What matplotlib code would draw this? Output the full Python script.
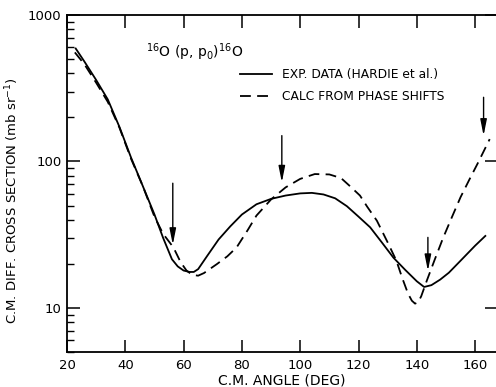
import numpy as np
import matplotlib
matplotlib.use("Agg")
import matplotlib.pyplot as plt

# experimental curve (Hardie et al.)
exp_angle = [23, 26, 30, 34, 38, 42, 46, 50, 53, 56, 58, 60, 62, 63.5, 65, 68, 72, 76, 80,
             85, 90, 95, 100, 104, 108, 112, 116, 120, 124, 128, 132, 136, 140, 142.5,
             145, 148, 151, 155, 160, 163.5]
exp_xs = [590, 480, 360, 265, 172, 106, 68, 43.5, 30, 21.5, 19.2, 18.0, 17.6, 17.6, 18.4,
          22.5, 29.3, 36.0, 43.4, 51, 55.5, 58.5, 60.5, 61, 59.5, 56, 49.5, 42, 35.5,
          28, 22, 18.2, 15.2, 13.9, 14.3, 15.6, 17.4, 21, 26.6, 31]

# calculated from phase shifts
calc_angle = [22.7, 26, 30, 34, 38, 42, 46, 50, 53, 56.5, 59, 61, 63, 65, 67, 71.4, 75,
              78.2, 82, 85, 90, 95, 100, 105, 110, 114, 117, 120.5, 123, 126.3, 130,
              133, 135, 137, 138.3, 139.4, 140.4, 141.5, 143.4, 146, 149, 152, 155, 158,
              161, 165]
calc_xs = [555, 460, 345, 255, 170, 104, 68, 42, 32, 25.9, 20.5, 18, 16.8, 16.6, 17.3,
           19.9, 22.5, 25.9, 34, 42.7, 55, 66.5, 76, 82, 81.5, 77, 68, 58.5, 49, 39.4,
           28, 21, 16.0, 12.5, 11.2, 10.7, 10.9, 12.0, 15.3, 21, 30, 41.5, 57, 75,
           98, 142]

# vertical arrows (angle, top, tip)
arrow_angle = [56.3, 93.7, 143.8, 162.9]
arrow_top = [71, 150, 30.3, 274]
arrow_tip = [27, 72, 17.9, 150]

fig = plt.figure(figsize=(4.96, 3.87), dpi=100)
ax = fig.add_axes([0.135, 0.0904, 0.867, 0.871])

ax.plot(exp_angle, exp_xs, color='black', lw=1.3, label='EXP. DATA (HARDIE et al.)')
ax.plot(calc_angle, calc_xs, color='black', lw=1.3, dashes=(6, 3.5),
        label='CALC FROM PHASE SHIFTS')

for a, t, b in zip(arrow_angle, arrow_top, arrow_tip):
    ax.annotate('', xy=(a, b), xytext=(a, t),
                arrowprops=dict(arrowstyle='-|>,head_length=0.8,head_width=0.16',
                                color='black', lw=1.0, shrinkA=0, shrinkB=0,
                                mutation_scale=12))

ax.set_yscale('log')
ax.set_xlim(20, 167.5)
ax.set_ylim(5, 1000)
ax.set_xticks([20, 40, 60, 80, 100, 120, 140, 160])
ax.set_yticks([10, 100, 1000])
ax.set_yticklabels(['10', '100', '1000'])
ax.yaxis.set_minor_locator(matplotlib.ticker.LogLocator(base=10, subs=np.arange(2, 10)))
ax.yaxis.set_minor_formatter(matplotlib.ticker.NullFormatter())

ax.tick_params(axis='both', which='major', direction='in', length=9, width=1.1,
               labelsize=9.5, top=True, right=True)
ax.tick_params(axis='both', which='minor', direction='in', length=5, width=1.0,
               right=False)
ax.tick_params(axis='x', pad=5)
ax.tick_params(axis='y', pad=4)
for s in ax.spines.values():
    s.set_linewidth(1.3)

ax.set_xlabel('C.M. ANGLE (DEG)', fontsize=10, labelpad=1)
ax.set_ylabel(r'C.M. DIFF. CROSS SECTION (mb sr$^{-1}$)', fontsize=9.5, labelpad=12)
ax.yaxis.set_label_coords(-0.108, 0.45)

ax.text(0.184, 0.89, r'$^{16}$O (p, p$_0$)$^{16}$O', transform=ax.transAxes,
        fontsize=10, va='center', ha='left')

ax.legend(loc='upper left', bbox_to_anchor=(0.403, 0.843), frameon=False, fontsize=8.8,
          handlelength=2.6, handletextpad=0.8, labelspacing=0.75, borderpad=0,
          borderaxespad=0)

fig.savefig('out.png', dpi=100)
